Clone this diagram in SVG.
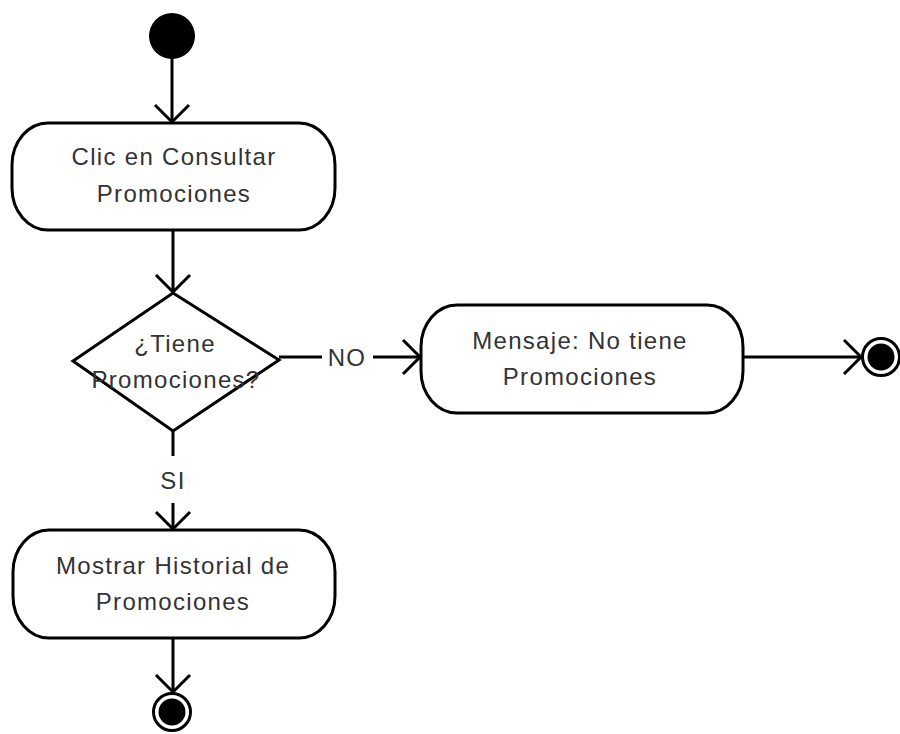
<svg xmlns="http://www.w3.org/2000/svg" width="900" height="734" viewBox="0 0 900 734">
  <defs>
    <marker id="open" markerUnits="userSpaceOnUse" markerWidth="40" markerHeight="40" viewBox="-20 -20 40 40" refX="0" refY="0" orient="auto" overflow="visible">
      <path d="M-17,-17 L0,0 L-17,17" fill="none" stroke="#000" stroke-width="3"/>
    </marker>
  </defs>
  <style>
    .act { fill: #fff; stroke: #000; stroke-width: 3; }
    .lbl { font-family: "Liberation Sans", Arial, sans-serif; font-size: 24px; fill: #333; text-anchor: middle; letter-spacing: 1.3px; }
    .edge { fill: none; stroke: #000; stroke-width: 3; }
    .arrow { marker-end: url(#open); }
  </style>
  <rect width="900" height="734" fill="#fff"/>

  <g id="connectors">
    <line class="edge arrow" x1="172" y1="58" x2="172" y2="122"/>
    <line class="edge arrow" x1="173" y1="231" x2="173" y2="292"/>
    <line class="edge" x1="279" y1="357" x2="322" y2="357"/>
    <line class="edge arrow" x1="373" y1="357" x2="420" y2="357"/>
    <line class="edge" x1="173" y1="431" x2="173" y2="456"/>
    <line class="edge arrow" x1="173" y1="503" x2="173" y2="529"/>
    <line class="edge arrow" x1="744" y1="357" x2="861" y2="357"/>
    <line class="edge arrow" x1="173" y1="639" x2="173" y2="692"/>
    <text class="lbl" x="347" y="366">NO</text>
    <text class="lbl" x="173" y="489">SI</text>
  </g>

  <g id="start">
    <circle cx="172" cy="36" r="23" fill="#000"/>
  </g>

  <g id="clic-consultar">
    <rect class="act" x="12" y="123" width="323" height="107" rx="36" ry="42"/>
    <text class="lbl" x="174" y="165">Clic en Consultar</text>
    <text class="lbl" x="174" y="202">Promociones</text>
  </g>

  <g id="tiene-promociones">
    <polygon class="act" points="173,293 279,360 173,431 73,361"/>
    <text class="lbl" x="175" y="352">¿Tiene</text>
    <text class="lbl" x="176" y="388">Promociones?</text>
  </g>

  <g id="mensaje">
    <rect class="act" x="421" y="305" width="322" height="108" rx="36" ry="42"/>
    <text class="lbl" x="580" y="349">Mensaje: No tiene</text>
    <text class="lbl" x="580" y="385">Promociones</text>
  </g>

  <g id="mostrar-historial">
    <rect class="act" x="13" y="530" width="322" height="108" rx="36" ry="42"/>
    <text class="lbl" x="173" y="574">Mostrar Historial de</text>
    <text class="lbl" x="173" y="610">Promociones</text>
  </g>

  <g id="end-right">
    <circle cx="881" cy="357" r="18.5" fill="#fff" stroke="#000" stroke-width="3"/>
    <circle cx="881" cy="357" r="13.5" fill="#000"/>
  </g>

  <g id="end-bottom">
    <circle cx="172" cy="712" r="18.5" fill="#fff" stroke="#000" stroke-width="3"/>
    <circle cx="172" cy="712" r="13.5" fill="#000"/>
  </g>
</svg>
